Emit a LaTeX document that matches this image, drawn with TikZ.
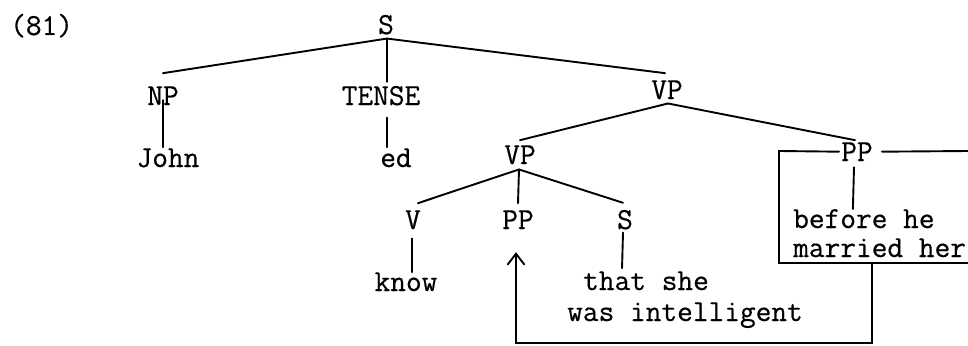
\documentclass[tikz,border=0pt]{standalone}
\usepackage{fontspec}
\newfontfamily\tw[FakeBold=0.5]{Latin Modern Mono}
\usetikzlibrary{calc,arrows.meta}
\tikzset{
  lab/.style={font=\tw\fontsize{30.5}{30}\selectfont, inner sep=0pt, anchor=base},
  labw/.style={lab, anchor=base west},
  edge/.style={line width=1.9pt, line cap=round},
}
\begin{document}
\begin{tikzpicture}[x=1pt,y=-1pt]
\useasboundingbox (0,0) rectangle (968,345);
% labels
\node[labw] (ex) at (10,35) {(81)};
\node[lab] (s) at (386,34) {S};
\node[lab] (np) at (163,105) {NP};
\node[lab] (tense) at (381,105) {TENSE};
\node[lab] (vp) at (667,99) {VP};
\node[lab] (john) at (168,167) {John};
\node[lab] (ed) at (396,167) {ed};
\node[lab] (vp2) at (520,164) {VP};
\node[lab] (ppr) at (857,161) {PP};
\node[lab] (v) at (413,229) {V};
\node[lab] (pp2) at (518,229) {PP};
\node[lab] (s2) at (625,229) {S};
\node[lab] (know) at (406,291) {know};
\node[labw] (thatshe) at (583,290) {that she};
\node[labw] (wasint) at (567,321) {was intelligent};
\node[labw] (before) at (793,228) {before he};
\node[labw] (married) at (793,257) {married her};
% tree edges
\draw[edge] ($(s.south)+(1,4)$) -- ($(np.north)+(0,-13)$);
\draw[edge] ($(s.south)+(1,4)$) -- ($(tense.north)+(6,-4)$);
\draw[edge] ($(s.south)+(1,4)$) -- ($(vp.north)+(-2,-7)$);
\draw[edge] ($(np.south)+(0,-5)$) -- ($(john.north)+(-5,-1)$);
\draw[edge] ($(tense.south)+(6,12)$) -- ($(ed.north)+(-9,-1)$);
\draw[edge] ($(vp.south)+(1,4)$) -- ($(vp2.north)+(0,-5)$);
\draw[edge] ($(vp.south)+(1,4)$) -- ($(ppr.north)+(-2,-2)$);
\draw[edge] ($(vp2.south)+(-1,5)$) -- ($(v.north)+(5,-7)$);
\draw[edge] ($(vp2.south)+(-1,5)$) -- ($(pp2.north)+(0,-7)$);
\draw[edge] ($(vp2.south)+(-1,5)$) -- ($(s2.north)+(-2,-7)$);
\draw[edge] ($(v.south)+(-1,9)$) -- ($(know.north)+(6,0)$);
\draw[edge] ($(s2.south)+(-2,3)$) -- ($(thatshe.north)+(-24,-3)$);
\draw[edge] ($(ppr.south)+(-3,6)$) -- ($(before.north)+(-11,0)$);
% box around PP
\coordinate (boxTL) at (779,151);
\coordinate (boxBL) at (779,263);
\coordinate (boxBR) at (968,263);
\coordinate (boxTR) at (968,151);
\draw[edge] ($(ppr.west)+(-2,0)$) -- (boxTL) -- (boxBL) -- (boxBR);
\draw[edge] ($(ppr.east)+(9,0)$) -- (boxTR);
% movement arrow
\coordinate (stem) at (872,263);
\coordinate (turnR) at (872,343);
\coordinate (turnL) at (516,343);
\draw[edge, line cap=butt, -{Straight Barb[length=11pt,width=17pt]}] (stem) -- (turnR) -- (turnL) -- ($(pp2.south)+(-2,23)$);
\end{tikzpicture}
\end{document}
